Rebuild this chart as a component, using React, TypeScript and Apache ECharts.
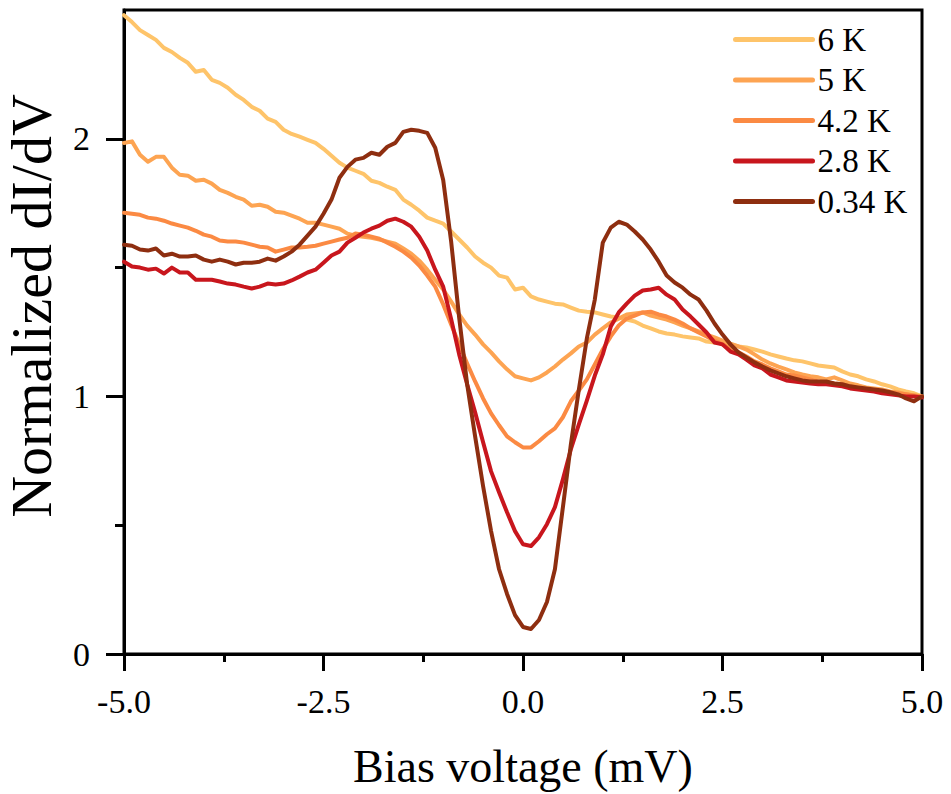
import React, { useEffect, useRef } from "react";
import * as echarts from "echarts";

// Bias voltage sampling grid (mV): -5.0 ... 5.0 in 0.1 steps
const biasVoltage: number[] = Array.from({ length: 101 }, (_, i) => Number((-5 + i * 0.1).toFixed(1)));

const seriesNames = ["6 K", "5 K", "4.2 K", "2.8 K", "0.34 K"];
const seriesColors = ["#FEC46A", "#FDA452", "#FB8A43", "#C8161D", "#8E2E10"];

const didv6K = [
  2.48, 2.453, 2.422, 2.403, 2.384, 2.353, 2.337, 2.314, 2.295, 2.26,
  2.267, 2.229, 2.217, 2.198, 2.171, 2.151, 2.124, 2.109, 2.078, 2.066,
  2.035, 2.019, 2.008, 1.996, 1.984, 1.961, 1.934, 1.907, 1.888, 1.876,
  1.864, 1.837, 1.829, 1.814, 1.802, 1.764, 1.744, 1.721, 1.694, 1.682,
  1.671, 1.64, 1.609, 1.578, 1.543, 1.519, 1.5, 1.469, 1.461, 1.415,
  1.422, 1.388, 1.376, 1.368, 1.36, 1.357, 1.345, 1.333, 1.329, 1.326,
  1.318, 1.31, 1.306, 1.298, 1.291, 1.275, 1.264, 1.252, 1.244, 1.24,
  1.233, 1.229, 1.225, 1.213, 1.209, 1.209, 1.202, 1.194, 1.19, 1.182,
  1.174, 1.163, 1.155, 1.147, 1.14, 1.136, 1.128, 1.12, 1.116, 1.112,
  1.097, 1.085, 1.078, 1.066, 1.058, 1.047, 1.039, 1.027, 1.019, 1.012, 1.0,
];

const didv5K = [
  1.984, 1.99, 1.938, 1.911, 1.93, 1.93, 1.888, 1.86, 1.857, 1.837,
  1.841, 1.826, 1.802, 1.79, 1.775, 1.764, 1.74, 1.744, 1.736, 1.717,
  1.713, 1.702, 1.69, 1.674, 1.674, 1.667, 1.659, 1.651, 1.632, 1.624,
  1.62, 1.616, 1.609, 1.601, 1.593, 1.574, 1.554, 1.527, 1.492, 1.453,
  1.415, 1.368, 1.318, 1.275, 1.24, 1.202, 1.171, 1.136, 1.105, 1.078,
  1.07, 1.062, 1.074, 1.093, 1.116, 1.143, 1.167, 1.194, 1.209, 1.24,
  1.264, 1.287, 1.302, 1.318, 1.322, 1.326, 1.314, 1.306, 1.298, 1.287,
  1.275, 1.264, 1.252, 1.24, 1.229, 1.217, 1.205, 1.194, 1.182, 1.163,
  1.143, 1.128, 1.116, 1.105, 1.093, 1.085, 1.078, 1.074, 1.066, 1.074,
  1.062, 1.05, 1.043, 1.035, 1.031, 1.027, 1.019, 1.016, 1.008, 1.004, 1.0,
];

const didv4_2K = [
  1.713, 1.709, 1.705, 1.694, 1.69, 1.682, 1.671, 1.663, 1.655, 1.643,
  1.628, 1.62, 1.605, 1.601, 1.601, 1.597, 1.589, 1.581, 1.578, 1.562,
  1.57, 1.578, 1.578, 1.581, 1.585, 1.593, 1.601, 1.609, 1.616, 1.632,
  1.628, 1.62, 1.612, 1.597, 1.581, 1.562, 1.539, 1.508, 1.469, 1.426,
  1.357, 1.279, 1.202, 1.128, 1.058, 0.992, 0.934, 0.888, 0.845, 0.822,
  0.802, 0.802, 0.826, 0.853, 0.876, 0.919, 0.981, 1.023, 1.066, 1.124,
  1.182, 1.233, 1.275, 1.302, 1.314, 1.326, 1.329, 1.318, 1.31, 1.298,
  1.283, 1.264, 1.248, 1.233, 1.217, 1.202, 1.186, 1.171, 1.155, 1.136,
  1.124, 1.109, 1.097, 1.085, 1.081, 1.074, 1.066, 1.058, 1.054, 1.05,
  1.047, 1.039, 1.031, 1.027, 1.023, 1.019, 1.016, 1.012, 1.008, 1.004, 1.0,
];

const didv2_8K = [
  1.523, 1.504, 1.5, 1.492, 1.496, 1.477, 1.5, 1.481, 1.481, 1.453,
  1.453, 1.453, 1.446, 1.438, 1.434, 1.426, 1.419, 1.426, 1.438, 1.434,
  1.438, 1.45, 1.465, 1.481, 1.492, 1.519, 1.547, 1.562, 1.597, 1.616,
  1.636, 1.651, 1.663, 1.682, 1.69, 1.678, 1.659, 1.62, 1.566, 1.492,
  1.426, 1.3, 1.163, 1.047, 0.938, 0.822, 0.709, 0.628, 0.55, 0.477,
  0.426, 0.419, 0.453, 0.504, 0.57, 0.678, 0.795, 0.891, 0.984, 1.081,
  1.163, 1.271, 1.326, 1.36, 1.391, 1.411, 1.415, 1.422, 1.395, 1.376,
  1.337, 1.31, 1.279, 1.248, 1.209, 1.202, 1.174, 1.163, 1.143, 1.12,
  1.109, 1.085, 1.074, 1.062, 1.058, 1.054, 1.05, 1.047, 1.047, 1.043,
  1.039, 1.031, 1.027, 1.023, 1.019, 1.012, 1.008, 1.004, 1.0, 1.0, 0.996,
];

const didv0_34K = [
  1.589, 1.585, 1.57, 1.566, 1.574, 1.547, 1.554, 1.543, 1.543, 1.547,
  1.531, 1.523, 1.531, 1.523, 1.512, 1.519, 1.519, 1.523, 1.535, 1.527,
  1.543, 1.562, 1.589, 1.624, 1.659, 1.709, 1.764, 1.849, 1.891, 1.919,
  1.926, 1.946, 1.938, 1.969, 1.984, 2.027, 2.035, 2.031, 2.023, 1.965,
  1.84, 1.6, 1.306, 1.047, 0.845, 0.651, 0.477, 0.329, 0.233, 0.151,
  0.105, 0.097, 0.132, 0.202, 0.329, 0.57, 0.814, 1.027, 1.225, 1.376,
  1.597, 1.655, 1.678, 1.667, 1.64, 1.609, 1.57, 1.523, 1.469, 1.442,
  1.422, 1.395, 1.376, 1.333, 1.283, 1.24, 1.202, 1.171, 1.151, 1.132,
  1.116, 1.101, 1.089, 1.078, 1.07, 1.062, 1.058, 1.058, 1.058, 1.05,
  1.047, 1.039, 1.035, 1.031, 1.027, 1.023, 1.016, 1.008, 0.992, 0.981, 1.0,
];

const seriesValues = [didv6K, didv5K, didv4_2K, didv2_8K, didv0_34K];

const xMajorTicks = [-5, -2.5, 0, 2.5, 5];
const yMajorTicks = [0, 1, 2];
const yMinorTicks = [0.5, 1.5];

const FONT = '"Liberation Serif", "DejaVu Serif", serif';

export default function App() {
  const ref = useRef<HTMLDivElement>(null);

  useEffect(() => {
    if (!ref.current) return;
    const chart = echarts.init(ref.current, undefined, { renderer: "svg" });

    const series = seriesNames.map((name, si) => ({
      name,
      type: "line",
      xAxisIndex: 0,
      yAxisIndex: 0,
      showSymbol: false,
      symbol: "none",
      data: biasVoltage.map((x, i) => [x, seriesValues[si][i]]),
      lineStyle: { color: seriesColors[si], width: 4, join: "round", cap: "round" },
      itemStyle: { color: seriesColors[si] },
      emphasis: { disabled: true },
    }));

    const axisLineStyle = { color: "#000", width: 3 };

    chart.setOption({
      animation: false,
      grid: {
        left: 124,
        right: 29,
        top: 10,
        bottom: 139,
        show: true,
        borderColor: "#000",
        borderWidth: 3,
        backgroundColor: "transparent",
      },
      legend: {
        orient: "vertical",
        left: 733,
        top: 23,
        padding: 0,
        itemWidth: 77,
        itemHeight: 5,
        itemGap: 7.5,
        data: seriesNames,
        lineStyle: { width: 5, cap: "round" },
        textStyle: { fontFamily: FONT, fontSize: 33, color: "#000" },
      },
      xAxis: {
        type: "value",
        min: -5,
        max: 5,
        interval: 2.5,
        axisLine: { onZero: false, lineStyle: axisLineStyle },
        axisTick: { inside: false, length: 17, lineStyle: axisLineStyle },
        minorTick: { show: true, splitNumber: 2, length: 8, lineStyle: axisLineStyle },
        splitLine: { show: false },
        minorSplitLine: { show: false },
        axisLabel: {
          margin: 30,
          fontFamily: FONT,
          fontSize: 34,
          color: "#000",
          customValues: xMajorTicks,
          formatter: (v: number) => v.toFixed(1),
        },
        name: "Bias voltage (mV)",
        nameLocation: "middle",
        nameGap: 89,
        nameTextStyle: { fontFamily: FONT, fontSize: 46, color: "#000" },
      },
      yAxis: [
        {
          type: "value",
          position: "left",
          min: 0,
          max: 2.5,
          interval: 1,
          axisLine: { show: true, onZero: false, lineStyle: axisLineStyle },
          axisTick: { show: true, inside: false, length: 18, lineStyle: axisLineStyle, customValues: yMajorTicks },
          splitLine: { show: false },
          axisLabel: {
            margin: 34,
            fontFamily: FONT,
            fontSize: 34,
            color: "#000",
            customValues: yMajorTicks,
            formatter: (v: number) => (Number.isInteger(v) ? String(v) : ""),
          },
        },
        {
          type: "value",
          position: "left",
          offset: 0,
          min: 0,
          max: 2.5,
          interval: 0.5,
          axisLine: { show: false, onZero: false },
          axisTick: { show: true, inside: false, length: 9, lineStyle: axisLineStyle, customValues: yMinorTicks },
          axisLabel: { show: false },
          splitLine: { show: false },
        },
      ],
      graphic: [
        {
          type: "text",
          x: 31,
          y: 306,
          rotation: Math.PI / 2,
          style: {
            text: "Normalized dI/dV",
            font: `58px ${FONT}`,
            fill: "#000",
            align: "center",
            verticalAlign: "middle",
          },
        },
      ],
      series,
    });

    return () => chart.dispose();
  }, []);

  return (
    <div
      ref={ref}
      style={{ position: "fixed", left: 0, top: 0, width: 951, height: 794, background: "#fff" }}
    />
  );
}
